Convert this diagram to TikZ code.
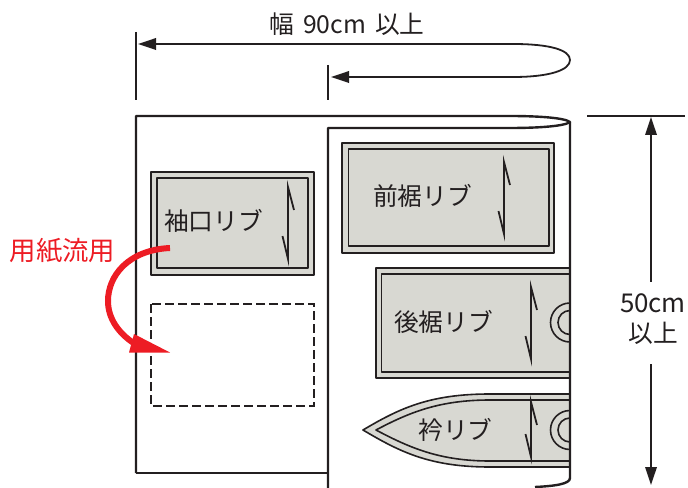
\documentclass[tikz,border=0pt]{standalone}
\usepackage{fontspec}
\setmainfont{Noto Sans CJK JP}
\usetikzlibrary{arrows.meta}
\definecolor{ink}{HTML}{231F20}
\definecolor{cloth}{HTML}{D8D8D2}
\definecolor{redtxt}{HTML}{ED1C24}
\tikzset{
 x=1bp,y=-1bp,
 sheet/.style={draw=ink,line width=2.4bp,line join=round},
 band/.style={draw=ink,line width=1.6bp,fill=cloth,line join=round},
 innerband/.style={draw=ink,line width=1.6bp,line join=round},
 dim/.style={draw=ink,line width=1.8bp},
 grain/.style={draw=ink,line width=1.8bp,line join=miter},
 ring/.style={draw=ink,line width=1.6bp},
 lbl/.style={text=ink,font=\fontsize{24.8}{24.8}\selectfont,inner sep=0pt},
 redlbl/.style={text=redtxt,font=\fontsize{26.5}{26.5}\selectfont,inner sep=0pt},
 headtip/.tip={Triangle[length=18bp,width=11.5bp]}
}
\newcommand{\grainmark}[3]{\draw[grain] (#1+6,#2+23) -- (#1,#2) -- (#1,#3) -- (#1-5.5,#3-23);}
\begin{document}
\begin{tikzpicture}
\useasboundingbox (0,0) rectangle (688,488);
\begin{scope}
\clip (0,0) rectangle (570,488);
\draw[band] (376,268) rectangle (600,378);
\draw[innerband] (381.5,274) rectangle (600,372);
\draw[band] (363,430) .. controls (400,408) and (430,394) .. (490,394) -- (600,394) -- (600,467) -- (490,467) .. controls (430,467) and (400,452) .. (363,430) -- cycle;
\draw[innerband] (376,430) .. controls (410,412) and (440,400) .. (490,400) -- (600,400) -- (600,461) -- (490,461) .. controls (440,461) and (410,448) .. (376,430) -- cycle;
\draw[ring] (570,322.5) circle (19.5);
\draw[ring] (570,322.5) circle (12);
\draw[ring] (570,430) circle (19.5);
\draw[ring] (570,430) circle (12);
\end{scope}
\draw[sheet] (136,473) -- (136,116) -- (510,116) .. controls (540,116) and (565,118) .. (570,122) .. controls (565,126) and (540,128) .. (510,128) -- (328,128) -- (328,488);
\draw[sheet] (136,473) -- (328,473);
\draw[sheet] (570,122) -- (570,478) .. controls (570,484) and (555,486) .. (535,487);
\draw[dim] (136,32) -- (136,100);
\draw[dim] (328,65) -- (328,100);
\draw[dim,{headtip}-{headtip}] (138,44) -- (513,44) .. controls (550,44) and (570,50) .. (570,60) .. controls (570,70) and (550,77) .. (513,77) -- (331,77);
\draw[band] (151,172) rectangle (314,275);
\draw[innerband] (157,178) rectangle (308,268);
\draw[band] (342,143) rectangle (554,253);
\draw[innerband] (348.5,149) rectangle (549,246);
\grainmark{288}{187}{259}
\grainmark{504}{162}{234}
\grainmark{531}{287}{359}
\grainmark{531}{402}{457}
\draw[draw=ink,line width=1.6bp,dash pattern=on 9bp off 4bp] (151,304) rectangle (314,406);
\node[lbl] (title) at (347,24) {幅\hspace{9bp}90cm\hspace{9bp}以上};
\node[lbl] (cuff) at (213.5,220.5) {袖口リブ};
\node[lbl] (front) at (422.5,195.5) {前裾リブ};
\node[lbl] (back) at (443.5,321.5) {後裾リブ};
\node[lbl] (collar) at (455.5,429.5) {衿リブ};
\node[lbl,font=\fontsize{26}{26}\selectfont] (hh) at (653,303) {50cm};
\node[lbl] (ij) at (653,333) {以上};
\node[redlbl] (flow) at (62.5,251) {用紙流用};
\draw[dim] (587,116) -- (685,116);
\coordinate (topA) at (651,117);
\coordinate (botA) at (651,485);
\draw[dim,{headtip}-] (topA) -- (651,282);
\draw[dim,-{headtip}] (651,364) -- (botA);
\draw[redtxt,line width=6bp] (170,248) .. controls (128,250) and (108,276) .. (108,301) .. controls (108,318) and (118,333) .. (135,344);
\fill[redtxt] (170,352.5) -- (134,334) -- (129,352.5) -- cycle;
\end{tikzpicture}
\end{document}
